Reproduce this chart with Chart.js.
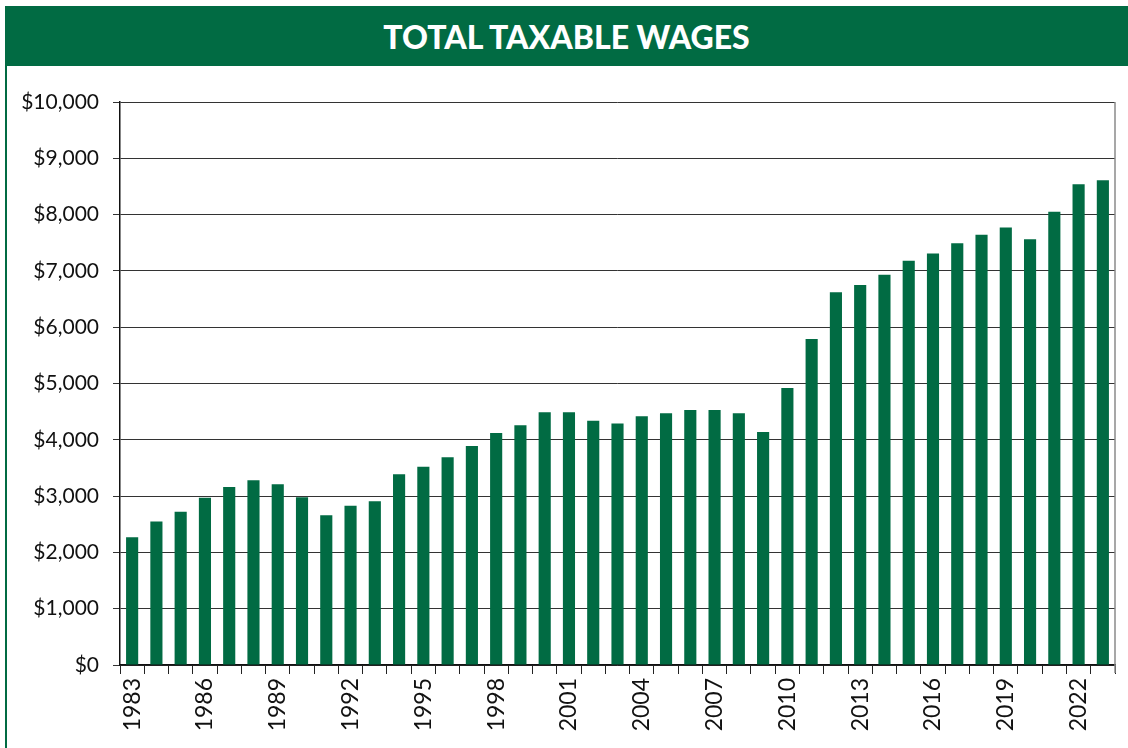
<!DOCTYPE html>
<html>
<head>
<meta charset="utf-8">
<script src="https://cdn.jsdelivr.net/npm/chart.js@4"></script>
<style>
  html, body { margin: 0; padding: 0; background: #fff; width: 1128px; height: 748px; overflow: hidden; }
  #header {
    position: absolute; left: 5px; top: 6px; width: 1123px; height: 60px;
    background: #016b43; color: #fff;
    font-family: Lato, sans-serif; font-weight: 900; font-size: 32px;
    display: flex; align-items: center; justify-content: center;
  }
  #frame { position: absolute; left: 5px; top: 66px; width: 2px; height: 682px; background: #016b43; }
  #wrap { position: absolute; left: 8px; top: 66px; width: 1120px; height: 682px; }
</style>
</head>
<body>
<div id="header">TOTAL TAXABLE WAGES</div>
<div id="frame"></div>
<div id="wrap"><canvas id="wagesChart"></canvas></div>
<script>
// Total taxable wages, 1983-2023
const years = [
  1983, 1984, 1985, 1986, 1987, 1988, 1989, 1990, 1991, 1992,
  1993, 1994, 1995, 1996, 1997, 1998, 1999, 2000, 2001, 2002,
  2003, 2004, 2005, 2006, 2007, 2008, 2009, 2010, 2011, 2012,
  2013, 2014, 2015, 2016, 2017, 2018, 2019, 2020, 2021, 2022, 2023
];
const wages = [
  2270, 2550, 2720, 2970, 3160, 3280, 3210, 2980, 2660, 2830,
  2910, 3390, 3520, 3690, 3890, 4120, 4260, 4490, 4490, 4340,
  4290, 4420, 4470, 4530, 4530, 4470, 4140, 4920, 5790, 6620,
  6750, 6930, 7180, 7310, 7490, 7640, 7770, 7560, 8050, 8540, 8610
];
const yMax  = 10000;
const yStep = 1000;
const labelEvery = 3;

const GREEN = "#016b43";

// thin grey line closing the plot on the right
const plotBorder = {
  id: "plotBorder",
  afterDraw(chart) {
    const a = chart.chartArea;
    const ctx = chart.ctx;
    ctx.save();
    ctx.strokeStyle = "#8a8a8a";
    ctx.lineWidth = 1.5;
    ctx.beginPath();
    ctx.moveTo(a.right, a.top);
    ctx.lineTo(a.right, a.bottom + 8);
    ctx.stroke();
    ctx.restore();
  }
};

const ctx = document.getElementById("wagesChart").getContext("2d");
new Chart(ctx, {
  type: "bar",
  data: {
    labels: years.map(String),
    datasets: [{
      data: wages,
      backgroundColor: GREEN,
      borderWidth: 0,
      categoryPercentage: 1.0,
      barPercentage: 0.5,
    }]
  },
  options: {
    responsive: true,
    maintainAspectRatio: false,
    animation: false,
    layout: { padding: { top: 36, right: 13, left: 0, bottom: 0 } },
    plugins: { legend: { display: false }, tooltip: { enabled: false } },
    scales: {
      x: {
        offset: true,
        grid: { offset: true, drawOnChartArea: false, drawTicks: true, tickLength: 9, color: "#222", lineWidth: 1 },
        border: { color: "#111", width: 1.5 },
        ticks: {
          autoSkip: false,
          maxRotation: 90,
          minRotation: 90,
          padding: 4,
          color: "#111",
          font: { family: "Lato", size: 23 },
          callback: (v, i) => (i % labelEvery === 0 ? years[i] : "")
        },
        afterFit: (scale) => {
          scale.height = 83;
          scale.paddingLeft = 0;
          scale.paddingRight = 0;
        }
      },
      y: {
        min: 0,
        max: yMax,
        grid: { color: "#333", lineWidth: 1, drawTicks: true, tickLength: 7 },
        border: { color: "#111", width: 1.5 },
        ticks: {
          stepSize: yStep,
          padding: 14,
          color: "#111",
          font: { family: "Lato", size: 21 },
          callback: (v) => "$" + v.toLocaleString("en-US")
        },
        afterFit: (scale) => { scale.width = 112; }
      }
    }
  },
  plugins: [plotBorder]
});
</script>
</body>
</html>
